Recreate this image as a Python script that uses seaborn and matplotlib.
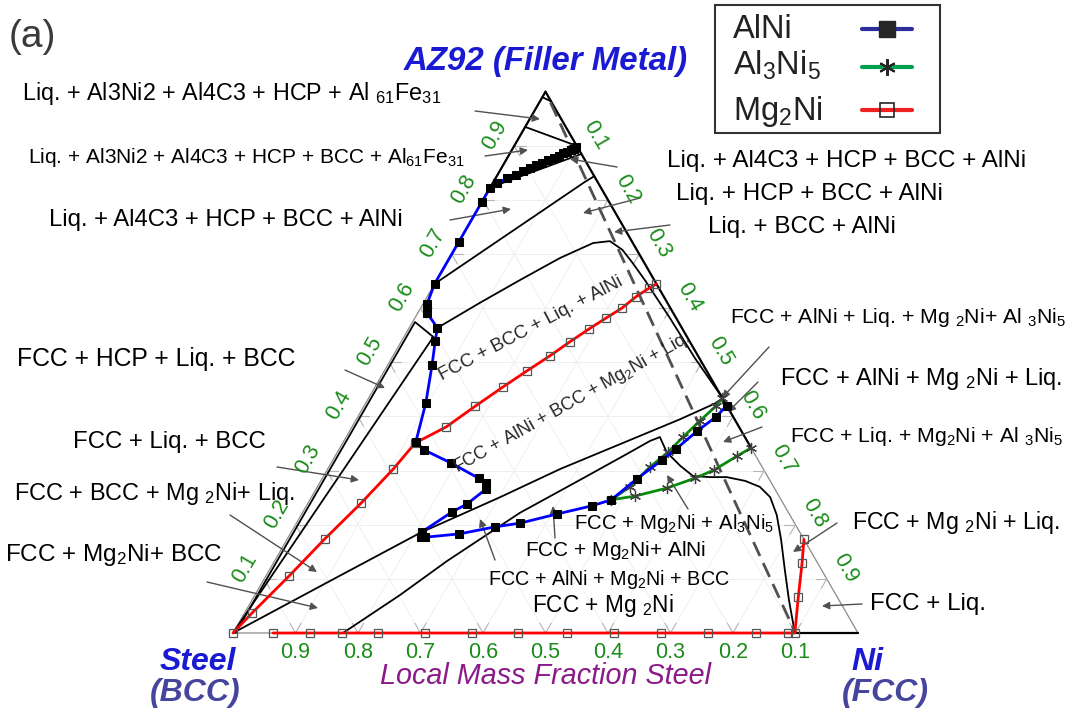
import numpy as np
import matplotlib
matplotlib.use("Agg")
import matplotlib.pyplot as plt
import seaborn as sns
from matplotlib.lines import Line2D
from matplotlib.patches import Rectangle

sns.set_style("white")
plt.rcParams["font.family"] = ["Liberation Sans", "DejaVu Sans"]
plt.rcParams["mathtext.fontset"] = "custom"
plt.rcParams["mathtext.rm"] = "Liberation Sans"
plt.rcParams["mathtext.it"] = "Liberation Sans:italic"
plt.rcParams["mathtext.bf"] = "Liberation Sans:bold"
plt.rcParams["mathtext.default"] = "regular"

W, H = 1070, 709

# ---- phase-fraction tracks (Ni mass fraction, AZ92 mass fraction) ----
alni_ni = [0.101, 0.098, 0.094, 0.090, 0.085, 0.080, 0.074, 0.067, 0.060, 0.053,
           0.046, 0.038, 0.029, 0.019, 0.007, 0.0, 0.0, 0.0, 0.0, 0.0065,
           0.015, 0.045, 0.054, 0.071, 0.096, 0.116, 0.137, 0.192, 0.250, 0.266,
           0.272, 0.255, 0.239, 0.209, 0.212, 0.219, 0.270, 0.321, 0.358, 0.409,
           0.457, 0.482, 0.504, 0.527, 0.539, 0.556, 0.573, 0.580]
alni_az = [0.897, 0.895, 0.892, 0.889, 0.886, 0.882, 0.878, 0.873, 0.868, 0.864,
           0.859, 0.853, 0.847, 0.840, 0.831, 0.823, 0.796, 0.722, 0.645, 0.608,
           0.591, 0.564, 0.539, 0.495, 0.425, 0.353, 0.338, 0.314, 0.286, 0.277,
           0.266, 0.238, 0.224, 0.187, 0.177, 0.177, 0.183, 0.196, 0.203, 0.220,
           0.235, 0.246, 0.285, 0.320, 0.340, 0.373, 0.399, 0.420]

al3ni5_ni = [0.566, 0.563, 0.551, 0.539, 0.529, 0.514, 0.500, 0.482,
             0.517, 0.561, 0.596, 0.619, 0.643, 0.658]
al3ni5_az = [0.434, 0.419, 0.392, 0.362, 0.334, 0.307, 0.270, 0.246,
             0.253, 0.268, 0.286, 0.301, 0.327, 0.342]

mg2ni_upper_ni = [0.355, 0.347, 0.334, 0.322, 0.306, 0.289, 0.270, 0.251, 0.228, 0.205,
                  0.178, 0.151, 0.116, 0.105, 0.085, 0.060, 0.037, 0.012, 0.0]
mg2ni_upper_az = [0.645, 0.637, 0.621, 0.600, 0.582, 0.562, 0.538, 0.512, 0.484, 0.455,
                  0.419, 0.381, 0.351, 0.303, 0.240, 0.174, 0.105, 0.037, 0.0]
mg2ni_lower_ni = [0.064, 0.123, 0.174, 0.232, 0.307, 0.382, 0.456, 0.534, 0.610,
                  0.685, 0.760, 0.837, 0.888, 0.899, 0.871, 0.846, 0.827]
mg2ni_lower_az = [0.0, 0.0, 0.0, 0.0, 0.0, 0.0, 0.0, 0.0, 0.0,
                  0.0, 0.0, 0.0, 0.0, 0.0, 0.067, 0.129, 0.173]

# ---- phase boundaries (Ni, AZ92) ----
bnd_apex = [(0.0, 0.990), (0.009, 0.986), (0.0175, 0.9825)]
bnd_top = [(0.0, 0.935), (0.100, 0.900)]
bnd_alni = [(0.0, 0.823), (0.115, 0.885)]
bnd_a = [(0.0, 0.645), (0.146, 0.833), (0.156, 0.844)]
bnd_b = [(0.045, 0.5635), (0.090, 0.610), (0.133, 0.652), (0.177, 0.693), (0.216, 0.7205),
         (0.241, 0.724), (0.269, 0.708), (0.296, 0.685), (0.333, 0.652), (0.408, 0.582),
         (0.485, 0.508), (0.5625, 0.4375)]
bnd_left = [(0.004, 0.0), (0.004, 0.5745), (0.047, 0.547)]
bnd_corner = [(0.0, 0.0), (0.047, 0.547)]
bnd_c = [(0.0, 0.0), (0.107, 0.096), (0.207, 0.185), (0.302, 0.251), (0.372, 0.303),
         (0.445, 0.349), (0.518, 0.395), (0.569, 0.431)]
bnd_d = [(0.176, 0.0), (0.232, 0.070), (0.276, 0.133), (0.348, 0.222), (0.414, 0.283),
         (0.463, 0.329), (0.490, 0.355), (0.502, 0.362), (0.527, 0.334), (0.561, 0.309),
         (0.591, 0.290), (0.619, 0.288), (0.646, 0.288), (0.679, 0.281), (0.708, 0.270),
         (0.734, 0.251), (0.761, 0.218), (0.791, 0.172), (0.825, 0.116), (0.859, 0.061),
         (0.899, 0.0)]
edge_black = [[(0.0, 1.0), (0.0, 0.823)], [(0.0, 1.0), (0.658, 0.342)], [(0.899, 0.0), (1.0, 0.0)]]
dilution = [(0.018, 0.98), (0.9, 0.0)]

ticks = [0.1, 0.2, 0.3, 0.4, 0.5, 0.6, 0.7, 0.8, 0.9]
tick_text = ["0.1", "0.2", "0.3", "0.4", "0.5", "0.6", "0.7", "0.8", "0.9"]


def tern(ni, az):
    ni = np.asarray(ni, float)
    az = np.asarray(az, float)
    return ni + az / 2.0, az * np.sqrt(3) / 2.0


def pairs(pts):
    a = np.asarray(pts, float)
    return tern(a[:, 0], a[:, 1])


def fp(x, y):
    return x / W, 1 - y / H


fig = plt.figure(figsize=(W / 100, H / 100), dpi=100)
ax = fig.add_axes([0, 0, 1, 1])
ax.set_xlim(-233 / 625, 837 / 625)
ax.set_ylim(-76 / 625, 633 / 625)
ax.axis("off")

# faint composition grid
for t in ticks:
    for p, q in [((0, t), (1 - t, t)), ((t, 0), (t, 1 - t)), ((1 - t, 0), (0, 1 - t))]:
        x, y = pairs([p, q])
        ax.plot(x, y, color="#ededed", lw=0.6, zorder=1)

# outer triangle (thin grey) and tick chevrons
x, y = pairs([(0, 0), (1, 0), (0, 1), (0, 0)])
ax.plot(x, y, color="#8a8a8a", lw=0.9, zorder=2)
tl = 0.018
for t in ticks:
    for base, dirs in [((1 - t, 0), [(0, 1), (-1, 1)]),
                       ((0, t), [(1, 0), (1, -1)]),
                       ((t, 1 - t), [(0, -1), (-1, 0)])]:
        for d in dirs:
            x, y = pairs([base, (base[0] + tl * d[0], base[1] + tl * d[1])])
            ax.plot(x, y, color="#b5b5b5", lw=0.8, zorder=2)

for seg in edge_black:
    x, y = pairs(seg)
    ax.plot(x, y, color="black", lw=1.6, zorder=3)

for b in [bnd_apex, bnd_top, bnd_alni, bnd_a, bnd_b, bnd_left, bnd_corner, bnd_c, bnd_d]:
    x, y = pairs(b)
    ax.plot(x, y, color="black", lw=1.3, zorder=3)

x, y = pairs(dilution)
ax.plot(x, y, color="#505050", lw=2.0, dashes=(5.5, 2.8), zorder=3)

# phase tracks
x, y = tern(mg2ni_upper_ni, mg2ni_upper_az)
sns.lineplot(x=x, y=y, sort=False, estimator=None, ax=ax, color="#ff0000", lw=2.0,
             marker="s", ms=6, mfc="none", mec="#555555", mew=0.9, zorder=5)
x, y = tern(mg2ni_lower_ni, mg2ni_lower_az)
sns.lineplot(x=x, y=y, sort=False, estimator=None, ax=ax, color="#ff0000", lw=2.0,
             marker="s", ms=6, mfc="none", mec="#555555", mew=0.9, zorder=5)
x, y = tern(al3ni5_ni, al3ni5_az)
sns.lineplot(x=x, y=y, sort=False, estimator=None, ax=ax, color="#0a8a0a", lw=2.0,
             marker=(6, 2, 0), ms=8, mec="#404040", mew=0.9, zorder=6)
x, y = tern(alni_ni, alni_az)
sns.lineplot(x=x, y=y, sort=False, estimator=None, ax=ax, color="#0000ff", lw=2.0,
             marker="s", ms=5.5, mfc="black", mec="black", zorder=7)

# edge tick labels
green = "#1a8c1a"
for t, s in zip(ticks, tick_text):
    fig.text(*fp(233 + 625 * (1 - t), 652), s, color=green, fontsize=15.5,
             ha="center", va="center")
    lx, ly = 233 + 312.5 * t, 633 - 541.3 * t
    fig.text(*fp(lx - 19, ly - 11), s, color=green, fontsize=15.5, rotation=60,
             ha="center", va="center")
    rx, ry = 545.5 + 312.5 * t, 633 - 541.3 * (1 - t)
    fig.text(*fp(rx + 19, ry - 11), s, color=green, fontsize=15.5, rotation=-60,
             ha="center", va="center")

# corner and axis titles
fig.text(*fp(9, 47), "(a)", fontsize=28, color="#3a3a3a")
fig.text(*fp(404, 70), "AZ92 (Filler Metal)", fontsize=23.8, color="#1a1ad2",
         fontweight="bold", fontstyle="italic")
fig.text(*fp(160, 670), "Steel", fontsize=23, color="#1a1ad2", fontweight="bold",
         fontstyle="italic")
fig.text(*fp(150, 701), "(BCC)", fontsize=23, color="#45459e", fontweight="bold",
         fontstyle="italic")
fig.text(*fp(851, 670), "Ni", fontsize=23, color="#1a1ad2", fontweight="bold",
         fontstyle="italic")
fig.text(*fp(842, 701), "(FCC)", fontsize=23, color="#45459e", fontweight="bold",
         fontstyle="italic")
fig.text(*fp(545, 684), "Local Mass Fraction Steel", fontsize=20.7, color="#8b1a8b",
         fontstyle="italic", ha="center")

# phase-region labels: (text, left x, baseline y, size)
labels = [
    ("Liq. + Al3Ni2 + Al4C3 + HCP + Al $_{61}$Fe$_{31}$", 22, 100, 16.8),
    ("Liq. + Al3Ni2 + Al4C3 + HCP + BCC + Al$_{61}$Fe$_{31}$", 28, 163, 15),
    ("Liq. + Al4C3 + HCP + BCC + AlNi", 49, 226, 17.2),
    ("Liq. + Al4C3 + HCP + BCC + AlNi", 667, 167, 17.5),
    ("Liq. + HCP + BCC + AlNi", 676, 200, 17.5),
    ("Liq. + BCC + AlNi", 708, 233, 17.4),
    ("FCC + AlNi + Liq. + Mg $_2$Ni+ Al $_3$Ni$_5$", 730, 323, 15.3),
    ("FCC + AlNi + Mg $_2$Ni + Liq.", 780, 385, 17),
    ("FCC + Liq. + Mg$_2$Ni + Al $_3$Ni$_5$", 790, 442, 15.3),
    ("FCC + Mg $_2$Ni + Liq.", 852, 529, 16.7),
    ("FCC + Liq.", 870, 610, 17.4),
    ("FCC + HCP + Liq. + BCC", 17, 366, 17.8),
    ("FCC + Liq. + BCC", 73, 448, 17.3),
    ("FCC + BCC + Mg $_2$Ni+ Liq.", 14, 500, 16.9),
    ("FCC + Mg$_2$Ni+ BCC", 5, 561, 17.5),
    ("FCC + Mg$_2$Ni + Al$_3$Ni$_5$", 574, 529, 14.7),
    ("FCC + Mg$_2$Ni+ AlNi", 525, 556, 15),
    ("FCC + AlNi + Mg$_2$Ni + BCC", 488, 585, 14.2),
    ("FCC + Mg $_2$Ni", 532, 612, 16.3),
]
for s, lx, ly, fs in labels:
    fig.text(*fp(lx, ly), s, fontsize=fs, color="black", ha="left", va="baseline")

fig.text(*fp(531, 329), "FCC + BCC + Liq. + AlNi", fontsize=13.5, rotation=27.8,
         rotation_mode="anchor", ha="center", va="center")
fig.text(*fp(572, 403), "FCC + AlNi + BCC + Mg$_2$Ni + Liq.", fontsize=13, rotation=29.4,
         rotation_mode="anchor", ha="center", va="center")

# pointers: (tail x, tail y, head x, head y)
pointers = [(475, 111, 540, 119), (485, 156, 528, 150), (450, 220, 511, 209),
            (617, 167, 570, 159), (640, 198, 583, 213), (670, 225, 614, 232),
            (769, 347, 722, 398), (758, 382, 728, 412), (762, 427, 723, 442),
            (837, 523, 793, 552), (862, 604, 822, 606), (345, 370, 385, 388),
            (277, 467, 359, 480), (230, 515, 317, 572), (207, 582, 318, 608),
            (688, 509, 667, 475), (555, 538, 553, 506), (495, 560, 480, 519)]
for tx, ty, hx, hy in pointers:
    ax.annotate("", xy=fp(hx, hy), xytext=fp(tx, ty), xycoords="figure fraction",
                textcoords="figure fraction",
                arrowprops=dict(arrowstyle="-|>", color="#505050", lw=1.0,
                                mutation_scale=11, shrinkA=0, shrinkB=0), zorder=4)

# legend box: label on the left, line sample with marker on the right
fig.add_artist(Rectangle(fp(715, 133), 225 / W, 128 / H, transform=fig.transFigure,
                         fill=False, ec="#333333", lw=1.5))
legend_rows = [
    ("AlNi", 38, 29, "#2e2e9a", dict(marker="s", ms=11, mfc="#262626", mec="#262626")),
    ("Al$_3$Ni$_5$", 75, 67, "#00a050", dict(marker=(6, 2, 0), ms=12, mec="#262626", mew=1.5)),
    ("Mg$_2$Ni", 120, 110, "#ee2222", dict(marker="s", ms=10.5, mfc="none", mec="#262626", mew=1.2)),
]
for lab, base, ly, col, mk in legend_rows:
    fig.text(*fp(733, base), lab, fontsize=23.5, color="#222222", va="baseline")
    (x0, y0), (x1, _) = fp(862, ly), fp(912, ly)
    fig.add_artist(Line2D([x0, x1], [y0, y0], color=col, lw=3, transform=fig.transFigure))
    fig.add_artist(Line2D([(x0 + x1) / 2], [y0], color=col, lw=0, transform=fig.transFigure, **mk))

fig.savefig("out.png", dpi=100)
